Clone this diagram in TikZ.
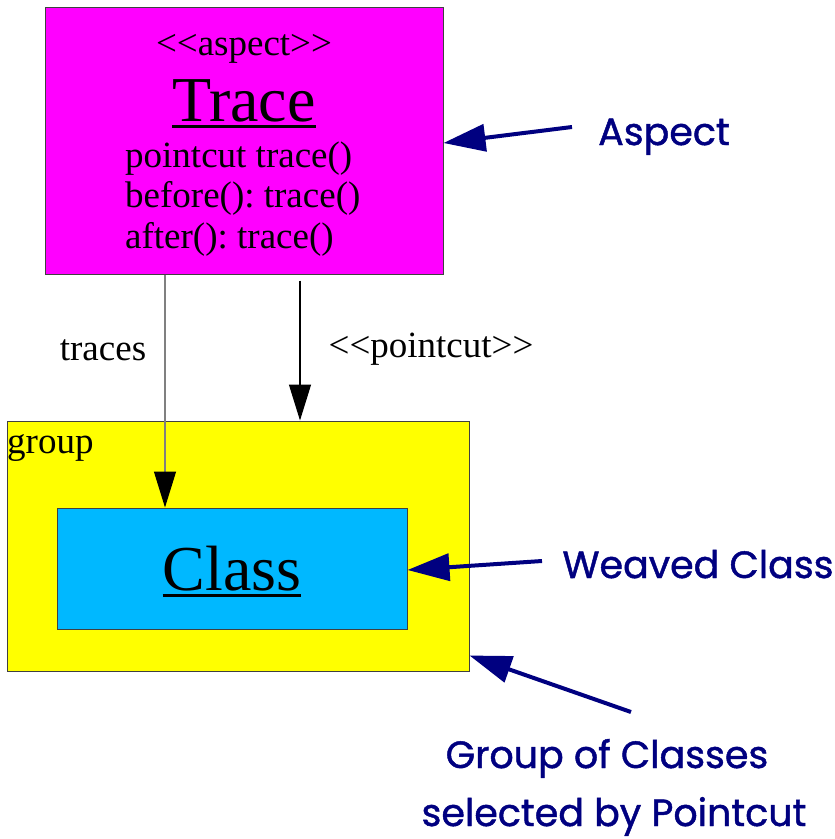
\documentclass[tikz,border=0pt]{standalone}
\usepackage{fontspec}
\setmainfont{Liberation Serif}
\newfontfamily\notefont{Poppins}[FakeBold=1.2]
\usetikzlibrary{arrows.meta, positioning}

\definecolor{aspectpink}{RGB}{255,0,255}
\definecolor{groupyellow}{RGB}{255,255,0}
\definecolor{classblue}{RGB}{0,184,255}
\definecolor{notenavy}{RGB}{0,0,128}
\definecolor{edgegray}{RGB}{64,64,64}
\definecolor{linegray}{RGB}{128,128,128}

% underline drawn a few points under the baseline, as wide as the word
\newcommand{\ulword}[1]{\setbox0=\hbox{#1}\rlap{\vrule height -3.5pt depth 6.5pt width \wd0}\box0}
% stereotype brackets, kept apart so they do not turn into guillemets
\newcommand{\stereo}[1]{<{}<#1>{}>}

\frenchspacing

\begin{document}
\begin{tikzpicture}[x=1pt, y=-1pt,
        box/.style={draw=edgegray, line width=1pt, inner sep=0pt},
        txt/.style={inner sep=0pt, font=\fontsize{37}{40}\selectfont},
        big/.style={inner sep=0pt, font=\fontsize{64}{70}\selectfont},
        note/.style={inner sep=0pt, text=notenavy, font=\notefont\fontsize{38}{48}\selectfont},
        flow/.style={line width=1.3pt, -{Triangle[length=36pt, width=22pt, color=black]}},
        pointer/.style={notenavy, line width=4pt, -{Triangle[length=42pt, width=27pt]}}
    ]
        \useasboundingbox (0,0) rectangle (835,839);

        % boxes
        \node[box, fill=aspectpink, minimum width=398pt, minimum height=267pt] (trace) at (244,140.5) {};
        \node[box, fill=groupyellow, minimum width=462pt, minimum height=250pt] (group) at (238,546) {};
        \node[box, fill=classblue, minimum width=350pt, minimum height=121pt] (class) at (232,568.5) {};

        % aspect contents
        \node[txt, anchor=base] (kind) at (244,55) {\stereo{aspect}};
        \node[big, anchor=base] (title) at (244,121) {\ulword{Trace}};
        \node[txt, anchor=base west] (pc) at (125,167) {pointcut trace()};
        \node[txt, anchor=base west] (before) at (125,207) {before(): trace()};
        \node[txt, anchor=base west] (after) at (125,248) {after(): trace()};

        \node[txt, anchor=base west] (grouplabel) at (7,453) {group};
        \node[big, anchor=base] (classname) at (232,590) {\ulword{Class}};

        % dependencies
        \draw[flow, draw=linegray] ([xshift=-79pt]trace.south) -- ([xshift=-67pt]class.north);
        \draw[flow, draw=black] ([xshift=56pt, yshift=-6pt]trace.south) -- ([xshift=62pt]group.north);
        \node[txt, anchor=base] (traces) at (103,360) {traces};
        \node[txt, anchor=base] (pointcut) at (431,357) {\stereo{pointcut}};

        % notes
        \node[note, anchor=base] (aspectnote) at (664,145) {Aspect};
        \node[note, anchor=base] (weavednote) at (698,578) {Weaved Class};
        \node[note, anchor=base] (groupnote) at (607,768) {Group of Classes};
        \node[note, anchor=base] (groupnote2) at (614,826) {selected by Pointcut};

        \coordinate (aspecttail) at (572,127);
        \coordinate (weavedtail) at (542,561);
        \coordinate (grouptail) at (631,712);
        \draw[pointer] (aspecttail) -- ([yshift=-2.5pt]trace.east);
        \draw[pointer] (weavedtail) -- ([yshift=-1.5pt]class.east);
        \draw[pointer] (grouptail) -- ([yshift=16pt]group.south east);
    \end{tikzpicture}
\end{document}
